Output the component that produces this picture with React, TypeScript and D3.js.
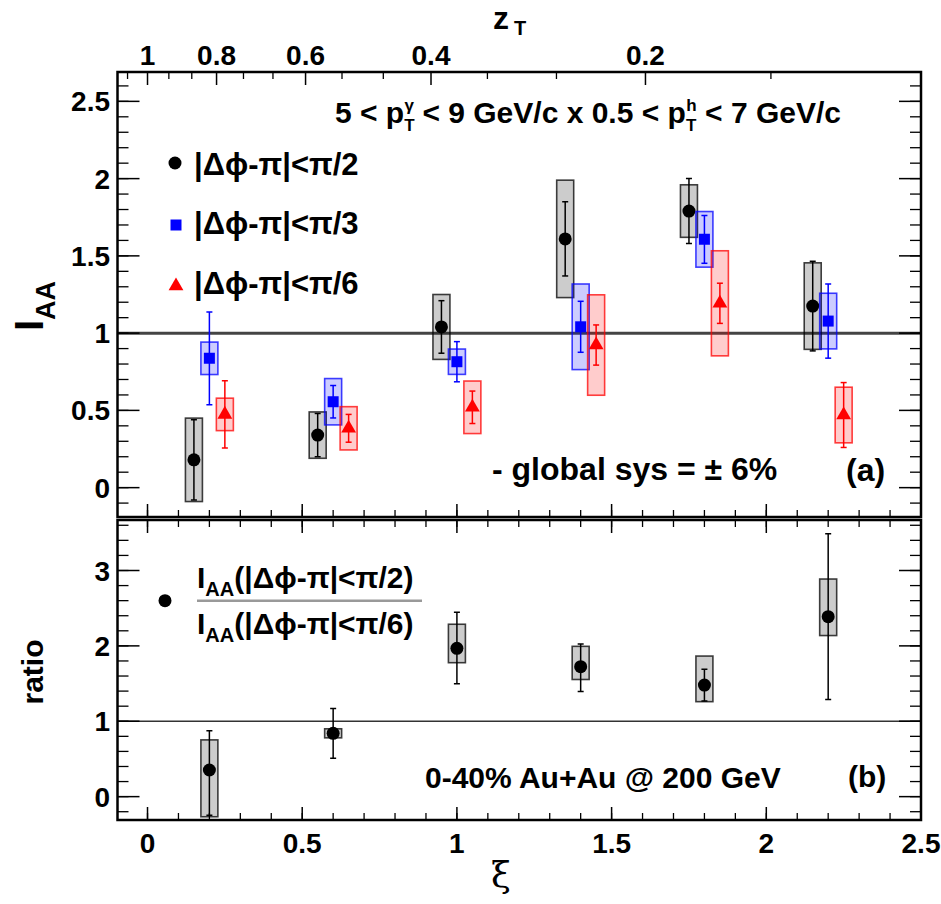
import React from 'react';
import * as d3 from 'd3';

// ---------- data ----------
const xiPi2 = [0.15, 0.55, 0.95, 1.35, 1.75, 2.15];
const iaaPi2 = [0.18, 0.34, 1.04, 1.61, 1.79, 1.175];
const statPi2 = [0.26, 0.14, 0.17, 0.24, 0.21, 0.29];
const sysPi2 = [0.27, 0.15, 0.21, 0.38, 0.17, 0.28];

const xiPi3 = [0.2, 0.6, 1.0, 1.4, 1.8, 2.2];
const iaaPi3 = [0.837, 0.556, 0.815, 1.041, 1.607, 1.078];
const statPi3 = [0.3, 0.105, 0.13, 0.165, 0.155, 0.24];
const sysPi3 = [0.105, 0.15, 0.082, 0.277, 0.18, 0.18];

const xiPi6 = [0.25, 0.65, 1.05, 1.45, 1.85, 2.25];
const iaaPi6 = [0.474, 0.384, 0.52, 0.923, 1.193, 0.47];
const statPi6 = [0.217, 0.09, 0.105, 0.13, 0.13, 0.21];
const sysPi6 = [0.105, 0.14, 0.17, 0.325, 0.34, 0.18];

const xiRatio = [0.2, 0.6, 1.0, 1.4, 1.8, 2.2];
const ratioVal = [0.353, 0.84, 1.967, 1.724, 1.48, 2.387];
const ratioStatHi = [0.52, 0.33, 0.48, 0.3, 0.21, 1.1];
const ratioStatLo = [0.6, 0.33, 0.47, 0.33, 0.21, 1.1];
const ratioSysHi = [0.4, 0.06, 0.32, 0.27, 0.385, 0.5];
const ratioSysLo = [0.62, 0.06, 0.19, 0.17, 0.22, 0.25];

const xiMajorTicks = [0, 0.5, 1, 1.5, 2, 2.5];
const xiTickLabels = ['0', '0.5', '1', '1.5', '2', '2.5'];
const iaaMajorTicks = [0, 0.5, 1, 1.5, 2, 2.5];
const iaaTickLabels = ['0', '0.5', '1', '1.5', '2', '2.5'];
const ratioMajorTicks = [0, 1, 2, 3];
const ratioTickLabels = ['0', '1', '2', '3'];
const zTMajorTicks = [1, 0.8, 0.6, 0.4, 0.2];
const zTTickLabels = ['1', '0.8', '0.6', '0.4', '0.2'];

const FONT = '"Liberation Sans", Arial, Helvetica, sans-serif';

type Series = {
  xi: number[];
  v: number[];
  statHi: number[];
  statLo: number[];
  sysHi: number[];
  sysLo: number[];
  color: string;
  fill: string;
  marker: 'circle' | 'square' | 'triangle';
};

function Marker({ kind, cx, cy, color }: { kind: string; cx: number; cy: number; color: string }) {
  if (kind === 'circle') return <circle cx={cx} cy={cy} r={6.5} fill={color} />;
  const sym = kind === 'square' ? d3.symbolSquare : d3.symbolTriangle;
  const size = kind === 'square' ? 121 : 95;
  const p = d3.symbol().type(sym).size(size)() as string;
  return <path d={p} transform={`translate(${cx},${cy})`} fill={color} />;
}

function SeriesMarks({ s, x, y, clip }: { s: Series; x: any; y: any; clip: string }) {
  const bw = 17;
  const cap = 3;
  return (
    <g clipPath={`url(#${clip})`}>
      {s.v.map((v, i) => {
        const cx = x(s.xi[i]);
        const yTop = y(v + s.sysHi[i]);
        const yBot = y(v - s.sysLo[i]);
        const sTop = y(v + s.statHi[i]);
        const sBot = y(v - s.statLo[i]);
        return (
          <g key={i}>
            <rect x={cx - bw / 2} y={yTop} width={bw} height={yBot - yTop} fill={s.fill} stroke={s.color} strokeWidth={1.6} strokeOpacity={0.75} />
            <line x1={cx} x2={cx} y1={sTop} y2={sBot} stroke={s.color} strokeWidth={1.5} />
            <line x1={cx - cap} x2={cx + cap} y1={sTop} y2={sTop} stroke={s.color} strokeWidth={1.5} />
            <line x1={cx - cap} x2={cx + cap} y1={sBot} y2={sBot} stroke={s.color} strokeWidth={1.5} />
            <Marker kind={s.marker} cx={cx} cy={y(v)} color={s.color} />
          </g>
        );
      })}
    </g>
  );
}

function DeltaPhiText({ tail }: { tail: string }) {
  return <>{'|Δϕ-π|<π/' + tail}</>;
}

export default function App() {
  const L = 117.5, R = 921;
  const x = d3.scaleLinear().domain([-0.097, 2.5]).range([L, R]);
  const yT = d3.scaleLinear().domain([-0.19, 2.69]).range([517, 72]);
  const yB = d3.scaleLinear().domain([-0.31, 3.67]).range([820, 520]);
  const topT = 72, botT = 517, topB = 520, botB = 820;

  const xMinor = d3.range(0, 26).map((i) => i / 10).filter((v) => x(v) > L + 1 && x(v) < R - 1);
  const yTMinor = d3.range(-1, 27).map((i) => i / 10).filter((v) => yT(v) < botT - 1 && yT(v) > topT + 1);
  const yBMinor = d3.range(-1, 19).map((i) => i / 5).filter((v) => yB(v) < botB - 1 && yB(v) > topB + 1);
  const xiOfZ = (z: number) => Math.log(1 / z);
  const zMinor = d3.range(1, 17).filter((i) => i % 3 !== 0).map((i) => i / 15).filter((z) => x(xiOfZ(z)) < R - 1 && x(xiOfZ(z)) > L + 1);

  const seriesTop: Series[] = [
    { xi: xiPi2, v: iaaPi2, statHi: statPi2, statLo: statPi2, sysHi: sysPi2, sysLo: sysPi2, color: '#000000', fill: 'rgba(0,0,0,0.2)', marker: 'circle' },
    { xi: xiPi3, v: iaaPi3, statHi: statPi3, statLo: statPi3, sysHi: sysPi3, sysLo: sysPi3, color: '#0000ff', fill: 'rgba(0,0,255,0.2)', marker: 'square' },
    { xi: xiPi6, v: iaaPi6, statHi: statPi6, statLo: statPi6, sysHi: sysPi6, sysLo: sysPi6, color: '#ff0000', fill: 'rgba(255,0,0,0.2)', marker: 'triangle' },
  ];
  const seriesRatio: Series = {
    xi: xiRatio, v: ratioVal, statHi: ratioStatHi, statLo: ratioStatLo, sysHi: ratioSysHi, sysLo: ratioSysLo,
    color: '#000000', fill: 'rgba(0,0,0,0.2)', marker: 'circle',
  };

  const tk = '#000';
  const majX = 13, minX = 7, majY = 22, minY = 11;

  return (
    <svg width={941} height={904} style={{ position: 'absolute', left: 0, top: 0 }} fontFamily={FONT} fontWeight="bold">
      <defs>
        <clipPath id="clipT"><rect x={L} y={topT} width={R - L} height={botT - topT} /></clipPath>
        <clipPath id="clipB"><rect x={L} y={topB} width={R - L} height={botB - topB} /></clipPath>
      </defs>
      <rect x={0} y={0} width={941} height={904} fill="#fff" />

      {/* ---------- TOP PANEL ---------- */}
      <line x1={L} x2={R} y1={yT(1)} y2={yT(1)} stroke="#444" strokeWidth={3} />
      {iaaMajorTicks.map((v) => (
        <g key={'ytm' + v}>
          <line x1={L} x2={L + majY} y1={yT(v)} y2={yT(v)} stroke={tk} strokeWidth={1.5} />
          <line x1={R} x2={R - majY} y1={yT(v)} y2={yT(v)} stroke={tk} strokeWidth={1.5} />
        </g>
      ))}
      {yTMinor.map((v) => (
        <g key={'ytn' + v}>
          <line x1={L} x2={L + minY} y1={yT(v)} y2={yT(v)} stroke={tk} strokeWidth={1.3} />
          <line x1={R} x2={R - minY} y1={yT(v)} y2={yT(v)} stroke={tk} strokeWidth={1.3} />
        </g>
      ))}
      {iaaMajorTicks.map((v, i) => (
        <text key={'ytl' + v} x={110} y={yT(v)} dy="0.36em" textAnchor="end" fontSize={28}>{iaaTickLabels[i]}</text>
      ))}
      {xiMajorTicks.map((v) => (
        <line key={'xtm' + v} x1={x(v)} x2={x(v)} y1={botT} y2={botT - majX} stroke={tk} strokeWidth={1.5} />
      ))}
      {xMinor.map((v) => (
        <line key={'xtn' + v} x1={x(v)} x2={x(v)} y1={botT} y2={botT - minX} stroke={tk} strokeWidth={1.3} />
      ))}
      {/* zT axis on top */}
      {zTMajorTicks.map((z, i) => (
        <g key={'zt' + z}>
          <line x1={x(xiOfZ(z))} x2={x(xiOfZ(z))} y1={topT} y2={topT + majX} stroke={tk} strokeWidth={1.5} />
          <text x={x(xiOfZ(z))} y={65} textAnchor="middle" fontSize={28}>{zTTickLabels[i]}</text>
        </g>
      ))}
      {zMinor.map((z) => (
        <line key={'zn' + z} x1={x(xiOfZ(z))} x2={x(xiOfZ(z))} y1={topT} y2={topT + minX} stroke={tk} strokeWidth={1.3} />
      ))}
      <text x={493} y={29} fontSize={32}>z<tspan fontSize={20} dy={6} dx={5}>T</tspan></text>

      {seriesTop.map((s, k) => (
        <SeriesMarks key={k} s={s} x={x} y={yT} clip="clipT" />
      ))}

      {/* legend */}
      <Marker kind="circle" cx={175} cy={163} color="#000" />
      <text x={194} y={175} fontSize={31}><DeltaPhiText tail="2" /></text>
      <Marker kind="square" cx={176} cy={225} color="#0000ff" />
      <text x={194} y={234} fontSize={31}><DeltaPhiText tail="3" /></text>
      <Marker kind="triangle" cx={176} cy={286} color="#ff0000" />
      <text x={194} y={294} fontSize={31}><DeltaPhiText tail="6" /></text>

      <text x={335} y={123} fontSize={30}>
        5 &lt; p<tspan fontSize={17} dy={8}>T</tspan><tspan fontSize={17} dx={-10} dy={-20}>γ</tspan>
        <tspan dy={12}> &lt; 9 GeV/c x 0.5 &lt; p</tspan><tspan fontSize={17} dy={8}>T</tspan><tspan fontSize={17} dx={-10} dy={-20}>h</tspan>
        <tspan dy={12}> &lt; 7 GeV/c</tspan>
      </text>
      <text x={492} y={480} fontSize={32}>- global sys = ± 6%</text>
      <text x={846} y={481} fontSize={32}>(a)</text>

      <g transform="translate(43,331) rotate(-90)">
        <text x={0} y={0} fontSize={40}>I<tspan fontSize={27} dy={12}>AA</tspan></text>
      </g>

      <rect x={L} y={topT} width={R - L} height={botT - topT} fill="none" stroke="#000" strokeWidth={2.5} />

      {/* ---------- BOTTOM PANEL ---------- */}
      <line x1={L} x2={R} y1={yB(1)} y2={yB(1)} stroke="#333" strokeWidth={1.6} />
      {ratioMajorTicks.map((v) => (
        <g key={'ybm' + v}>
          <line x1={L} x2={L + majY} y1={yB(v)} y2={yB(v)} stroke={tk} strokeWidth={1.5} />
          <line x1={R} x2={R - majY} y1={yB(v)} y2={yB(v)} stroke={tk} strokeWidth={1.5} />
        </g>
      ))}
      {yBMinor.map((v) => (
        <g key={'ybn' + v}>
          <line x1={L} x2={L + minY} y1={yB(v)} y2={yB(v)} stroke={tk} strokeWidth={1.3} />
          <line x1={R} x2={R - minY} y1={yB(v)} y2={yB(v)} stroke={tk} strokeWidth={1.3} />
        </g>
      ))}
      {ratioMajorTicks.map((v, i) => (
        <text key={'ybl' + v} x={110} y={yB(v)} dy="0.36em" textAnchor="end" fontSize={28}>{ratioTickLabels[i]}</text>
      ))}
      {xiMajorTicks.map((v) => (
        <g key={'xbm' + v}>
          <line x1={x(v)} x2={x(v)} y1={botB} y2={botB - majX} stroke={tk} strokeWidth={1.5} />
          <line x1={x(v)} x2={x(v)} y1={topB} y2={topB + majX} stroke={tk} strokeWidth={1.5} />
        </g>
      ))}
      {xMinor.map((v) => (
        <g key={'xbn' + v}>
          <line x1={x(v)} x2={x(v)} y1={botB} y2={botB - minX} stroke={tk} strokeWidth={1.3} />
          <line x1={x(v)} x2={x(v)} y1={topB} y2={topB + minX} stroke={tk} strokeWidth={1.3} />
        </g>
      ))}
      {xiMajorTicks.map((v, i) => (
        <text key={'xbl' + v} x={x(v)} y={853} textAnchor="middle" fontSize={28}>{xiTickLabels[i]}</text>
      ))}
      <text x={501} y={887} textAnchor="middle" fontSize={36} fontWeight="normal" fontFamily='"DejaVu Serif", serif'>ξ</text>

      <SeriesMarks s={seriesRatio} x={x} y={yB} clip="clipB" />

      {/* ratio legend */}
      <Marker kind="circle" cx={165} cy={600.7} color="#000" />
      <text x={197} y={588} fontSize={30}>I<tspan fontSize={20} dy={8}>AA</tspan><tspan dy={-8}>(</tspan><DeltaPhiText tail="2)" /></text>
      <line x1={197} x2={422} y1={600.7} y2={600.7} stroke="#999" strokeWidth={2.5} />
      <text x={197} y={634} fontSize={30}>I<tspan fontSize={20} dy={8}>AA</tspan><tspan dy={-8}>(</tspan><DeltaPhiText tail="6)" /></text>

      <text x={425} y={788} fontSize={30}>0-40% Au+Au @ 200 GeV</text>
      <text x={848} y={787} fontSize={30}>(b)</text>

      <g transform="translate(43,672) rotate(-90)">
        <text x={0} y={0} textAnchor="middle" fontSize={30}>ratio</text>
      </g>

      <rect x={L} y={topB} width={R - L} height={botB - topB} fill="none" stroke="#000" strokeWidth={2.5} />
    </svg>
  );
}
